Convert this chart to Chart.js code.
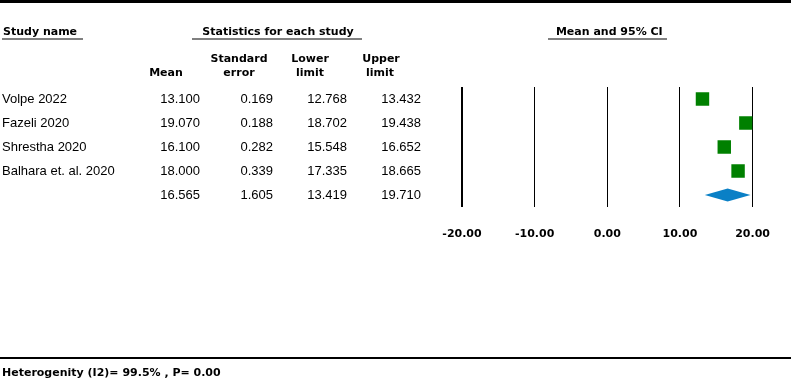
<!DOCTYPE html>
<html>
<head>
<meta charset="utf-8">
<script src="https://cdn.jsdelivr.net/npm/chart.js@4.4.0/dist/chart.umd.min.js"></script>
<style>
  body { margin: 0; background: #fff; }
  #forest { display: block; }
</style>
</head>
<body>
<canvas id="forest" width="791" height="379"></canvas>
<script>
  // ---------------------------
  // Data
  // ---------------------------

  const studyNames = ["Volpe 2022", "Fazeli 2020", "Shrestha 2020", "Balhara et. al. 2020"];
  const means = [13.1, 19.07, 16.1, 18.0];
  const stdErrors = [0.169, 0.188, 0.282, 0.339];
  const lowerLimits = [12.768, 18.702, 15.548, 17.335];
  const upperLimits = [13.432, 19.438, 16.652, 18.665];

  const summaryMean = 16.565;
  const summaryStdError = 1.605;
  const summaryLower = 13.419;
  const summaryUpper = 19.71;

  const axisTicks = [-20, -10, 0, 10, 20];
  const heterogeneityText = "Heterogenity (I2)= 99.5% , P= 0.00";

  const BOLD = 'bold 11px "DejaVu Sans", Verdana, sans-serif';
  const PLAIN = '13px "Liberation Sans", Arial, sans-serif';
  const GREEN = "#008000";
  const BLUE = "#0a80c6";

  const summaryRow = studyNames.length + 1;

  // ---------------------------
  // Table + frame plugin
  // ---------------------------

  const tablePlugin = {
    id: "forestTable",
    afterDatasetsDraw(chart) {
      const ctx = chart.ctx;
      const x = chart.scales.x;
      const y = chart.scales.y;

      // summary diamond
      const cy = y.getPixelForValue(summaryRow);
      const half = 6.5;
      ctx.save();
      ctx.fillStyle = BLUE;
      ctx.beginPath();
      ctx.moveTo(x.getPixelForValue(summaryLower), cy);
      ctx.lineTo(x.getPixelForValue(summaryMean), cy - half);
      ctx.lineTo(x.getPixelForValue(summaryUpper), cy);
      ctx.lineTo(x.getPixelForValue(summaryMean), cy + half);
      ctx.closePath();
      ctx.fill();
      ctx.restore();
    },
    afterDraw(chart) {
      const ctx = chart.ctx;
      const x = chart.scales.x;
      const y = chart.scales.y;
      const W = chart.width;

      ctx.save();

      // frame lines
      ctx.fillStyle = "#000";
      ctx.fillRect(0, 0, W, 3);
      ctx.fillRect(0, 357, W, 2);

      // header underlines
      ctx.fillStyle = "#808080";
      ctx.fillRect(2, 38, 81, 2);
      ctx.fillRect(192, 38, 170, 2);
      ctx.fillRect(548, 38, 119, 2);

      // headers
      ctx.fillStyle = "#000";
      ctx.font = BOLD;
      ctx.textBaseline = "middle";
      ctx.textAlign = "left";
      ctx.fillText("Study name", 3, 32);
      ctx.textAlign = "center";
      ctx.fillText("Statistics for each study", 278, 32);
      ctx.fillText("Mean and 95% CI", x.getPixelForValue(0) + 2, 32);

      ctx.fillText("Standard", 239, 59);
      ctx.fillText("Lower", 310, 59);
      ctx.fillText("Upper", 381, 59);
      ctx.fillText("Mean", 166, 73);
      ctx.fillText("error", 239, 73);
      ctx.fillText("limit", 310, 73);
      ctx.fillText("limit", 380, 73);

      // rows
      ctx.font = PLAIN;
      const rows = studyNames.map((name, i) => [name, means[i], stdErrors[i], lowerLimits[i], upperLimits[i]]);
      rows.push(["", summaryMean, summaryStdError, summaryLower, summaryUpper]);

      rows.forEach((r, i) => {
        const ry = y.getPixelForValue(i + 1);
        ctx.textAlign = "left";
        ctx.fillText(r[0], 2, ry);
        ctx.textAlign = "right";
        ctx.fillText(r[1].toFixed(3), 200, ry);
        ctx.fillText(r[2].toFixed(3), 273, ry);
        ctx.fillText(r[3].toFixed(3), 347, ry);
        ctx.fillText(r[4].toFixed(3), 421, ry);
      });

      // footer
      ctx.font = BOLD;
      ctx.textAlign = "left";
      ctx.fillText(heterogeneityText, 2, 373);

      ctx.restore();
    }
  };

  // ---------------------------
  // Chart
  // ---------------------------

  const ctx = document.getElementById("forest").getContext("2d");

  new Chart(ctx, {
    type: "scatter",
    data: {
      datasets: [
        {
          label: "Studies",
          data: means.map((m, i) => ({ x: m, y: i + 1 })),
          pointStyle: "rect",
          pointRadius: 9.5,
          pointHoverRadius: 9.5,
          backgroundColor: GREEN,
          borderWidth: 0
        }
      ]
    },
    options: {
      responsive: false,
      animation: false,
      events: [],
      layout: { padding: { left: 462, right: 38, top: 87, bottom: 0 } },
      plugins: {
        legend: { display: false },
        tooltip: { enabled: false }
      },
      scales: {
        x: {
          type: "linear",
          min: axisTicks[0],
          max: axisTicks[axisTicks.length - 1],
          afterBuildTicks: s => { s.ticks = axisTicks.map(v => ({ value: v })); },
          afterFit: s => { s.height = 172; },
          border: { display: false },
          grid: {
            color: "#000",
            lineWidth: c => (c.tick && c.tick.value === axisTicks[0] ? 2 : 1),
            drawTicks: false
          },
          ticks: {
            padding: 21,
            color: "#000",
            font: { family: '"DejaVu Sans", Verdana, sans-serif', size: 11, weight: "bold" },
            callback: v => Number(v).toFixed(2),
            maxRotation: 0
          }
        },
        y: {
          type: "linear",
          display: false,
          reverse: true,
          min: 0.5,
          max: summaryRow + 0.5
        }
      }
    },
    plugins: [tablePlugin]
  });
</script>
</body>
</html>
